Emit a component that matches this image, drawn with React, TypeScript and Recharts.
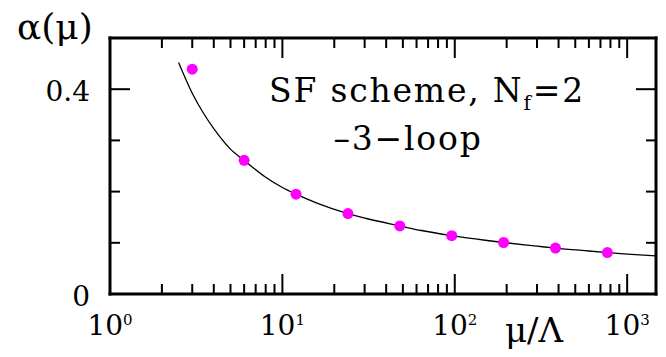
import { ComposedChart, Line, Scatter, XAxis, YAxis } from "recharts";

// lattice points (mu / Lambda, alpha)
const muPts = [3, 6, 12, 24, 48, 96, 192, 384, 768];
const alphaPts = [0.439, 0.261, 0.195, 0.157, 0.133, 0.114, 0.1006, 0.0896, 0.081];

// 3-loop curve
const muCurve = [2.5, 3, 3.5, 4, 5, 6, 8, 10, 12, 16, 24, 32, 48, 64, 96, 150, 192, 300, 384, 600, 768, 1000, 1470];
const alphaCurve = [
    0.452, 0.392, 0.352, 0.323, 0.283, 0.261, 0.228, 0.208, 0.195, 0.177, 0.157, 0.146, 0.133, 0.124, 0.114,
    0.105, 0.1006, 0.0935, 0.0896, 0.084, 0.081, 0.078, 0.0745,
];

const xDecades = [1, 10, 100, 1000];
const xTicks = [
    1, 2, 3, 4, 5, 6, 7, 8, 9, 10, 20, 30, 40, 50, 60, 70, 80, 90, 100, 200, 300, 400, 500, 600, 700, 800, 900,
    1000,
];
const yTicks = [0, 0.1, 0.2, 0.3, 0.4];
const yLabelled = [0, 0.4];

const pts = muPts.map((mu, i) => ({ mu, a: alphaPts[i] }));
const curve = muCurve.map((mu, i) => ({ mu, a: alphaCurve[i] }));

const FONT = "'DejaVu Serif', serif";
const axisLine = { stroke: "#000", strokeWidth: 3, strokeLinecap: "square" as const };

function isDecade(v: number) {
    return xDecades.includes(v);
}

// eslint-disable-next-line @typescript-eslint/no-explicit-any
function BottomTick({ x, y, payload }: any) {
    const v = payload.value;
    const major = isDecade(v);
    return (
        <g>
            <line x1={x} x2={x} y1={y} y2={y - (major ? 20 : 10)} stroke="#000" strokeWidth={2} />
            {major && (
                <text x={x} y={y + 41} textAnchor="middle" fontFamily={FONT} fontSize={28} fill="#000">
                    10
                    <tspan dy={-10} fontSize={15}>
                        {Math.round(Math.log10(v))}
                    </tspan>
                </text>
            )}
        </g>
    );
}

// eslint-disable-next-line @typescript-eslint/no-explicit-any
function TopTick({ x, y, payload }: any) {
    const major = isDecade(payload.value);
    return <line x1={x} x2={x} y1={y} y2={y + (major ? 20 : 10)} stroke="#000" strokeWidth={2} />;
}

// eslint-disable-next-line @typescript-eslint/no-explicit-any
function LeftTick({ x, y, payload }: any) {
    const v = payload.value;
    const major = yLabelled.includes(v);
    return (
        <g>
            <line x1={x} x2={x + (major ? 20 : 10)} y1={y} y2={y} stroke="#000" strokeWidth={2} />
            {major && (
                <text x={x - 20} y={y + 12} textAnchor="end" fontFamily={FONT} fontSize={28} fill="#000">
                    {String(v)}
                </text>
            )}
        </g>
    );
}

// eslint-disable-next-line @typescript-eslint/no-explicit-any
function RightTick({ x, y, payload }: any) {
    const major = yLabelled.includes(payload.value);
    return <line x1={x} x2={x - (major ? 20 : 10)} y1={y} y2={y} stroke="#000" strokeWidth={2} />;
}

// eslint-disable-next-line @typescript-eslint/no-explicit-any
function Dot({ cx, cy }: any) {
    return <circle cx={cx} cy={cy} r={5.5} fill="#ff00ff" />;
}

export default function App() {
    return (
        <div style={{ position: "absolute", left: 0, top: 0, width: 666, height: 357, background: "#fff" }}>
            <ComposedChart width={666} height={357} margin={{ top: 37, right: 9, bottom: 0, left: 0 }}>
                <XAxis
                    xAxisId="b"
                    dataKey="mu"
                    type="number"
                    scale="log"
                    domain={[1, 1470]}
                    allowDataOverflow
                    ticks={xTicks}
                    interval={0}
                    tick={<BottomTick />}
                    tickSize={0}
                    tickMargin={0}
                    tickLine={false}
                    axisLine={axisLine}
                    height={63}
                />
                <XAxis
                    xAxisId="t"
                    orientation="top"
                    dataKey="mu"
                    type="number"
                    scale="log"
                    domain={[1, 1470]}
                    allowDataOverflow
                    ticks={xTicks}
                    interval={0}
                    tick={<TopTick />}
                    tickSize={0}
                    tickMargin={0}
                    tickLine={false}
                    axisLine={axisLine}
                    height={1}
                />
                <YAxis
                    yAxisId="l"
                    type="number"
                    domain={[0, 0.5]}
                    allowDataOverflow
                    ticks={yTicks}
                    interval={0}
                    tick={<LeftTick />}
                    tickSize={0}
                    tickMargin={0}
                    tickLine={false}
                    axisLine={axisLine}
                    width={110}
                />
                <YAxis
                    yAxisId="r"
                    orientation="right"
                    type="number"
                    domain={[0, 0.5]}
                    allowDataOverflow
                    ticks={yTicks}
                    interval={0}
                    tick={<RightTick />}
                    tickSize={0}
                    tickMargin={0}
                    tickLine={false}
                    axisLine={axisLine}
                    width={1}
                />
                <Line
                    xAxisId="b"
                    yAxisId="l"
                    data={curve}
                    dataKey="a"
                    type="monotone"
                    stroke="#000"
                    strokeWidth={1.3}
                    dot={false}
                    activeDot={false}
                    isAnimationActive={false}
                />
                <Scatter
                    xAxisId="b"
                    yAxisId="l"
                    data={pts}
                    dataKey="a"
                    shape={<Dot />}
                    isAnimationActive={false}
                />
            </ComposedChart>
            <svg
                width={666}
                height={357}
                style={{ position: "absolute", left: 0, top: 0, pointerEvents: "none" }}
                fontFamily={FONT}
                fill="#000"
            >
                <text x={17} y={39} fontSize={36}>
                    α(μ)
                </text>
                <text x={505} y={342} fontSize={34}>
                    μ/Λ
                </text>
                <text x={427} y={102} fontSize={33} textAnchor="middle" letterSpacing={1.8}>
                    SF scheme, N<tspan dy={8} fontSize={20}>f</tspan>
                    <tspan dy={-8}>=2</tspan>
                </text>
                <text x={408} y={150} fontSize={33} textAnchor="middle" letterSpacing={1.8}>
                    –3−loop
                </text>
            </svg>
        </div>
    );
}
